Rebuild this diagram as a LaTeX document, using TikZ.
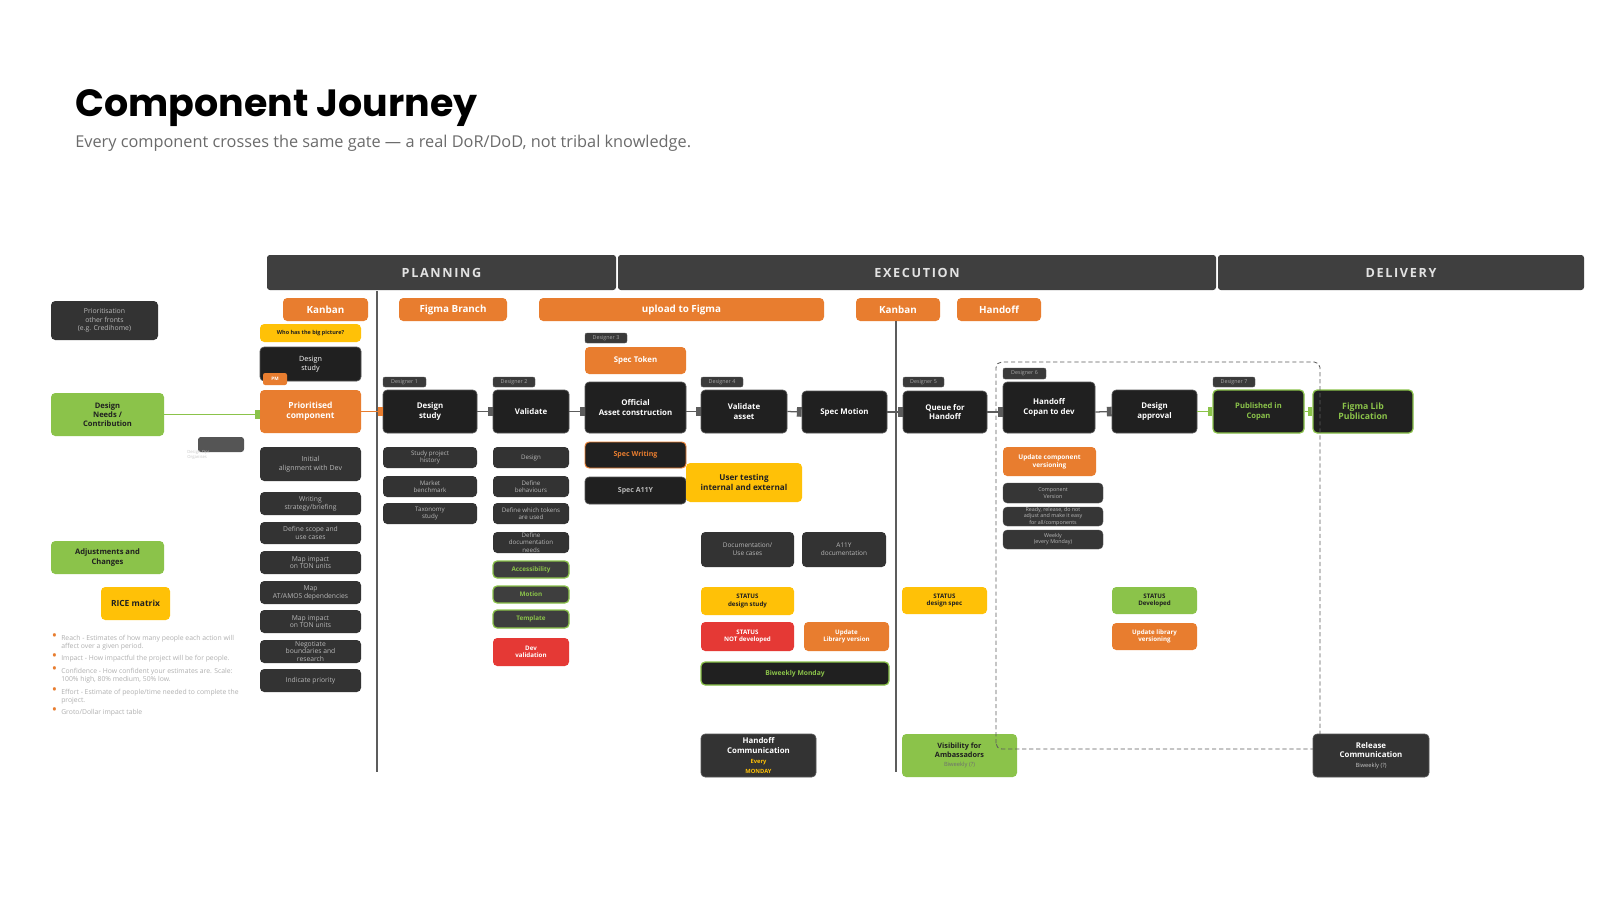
\documentclass[tikz,border=0pt]{standalone}
\usepackage{fontspec}
\setmainfont{Open Sans}
\newfontfamily\titlefont{Poppins}
\usetikzlibrary{arrows.meta,positioning}
\definecolor{ink}{HTML}{202020}
\definecolor{panel}{HTML}{333333}
\definecolor{panellite}{HTML}{3E3E3E}
\definecolor{bar}{HTML}{3F3F3F}
\definecolor{bartext}{HTML}{E2E2E2}
\definecolor{tagfill}{HTML}{3A3A3A}
\definecolor{tagtext}{HTML}{A8A8A8}
\definecolor{tangerine}{HTML}{E87D2F}
\definecolor{leaf}{HTML}{8BC34A}
\definecolor{sun}{HTML}{FFC107}
\definecolor{alert}{HTML}{E53935}
\definecolor{mute}{HTML}{B8B8B8}
\definecolor{faint}{HTML}{B0B0B0}
\definecolor{subgray}{HTML}{6B6B6B}
\definecolor{edge}{HTML}{555555}
\definecolor{wire}{HTML}{5C5C5C}
\definecolor{opsgray}{HTML}{555555}

\tikzset{
  corners/.style args={#1/#2/#3/#4}{at={({(#1+#3)/2},{(#2+#4)/2})},
    minimum width={(#3-#1)*0.025cm}, minimum height={(#4-#2)*0.025cm}},
  base/.style={inner sep=0pt, rounded corners=3pt, align=center},
  phasebar/.style={base, rounded corners=2pt, fill=bar, text=bartext,
    font=\fontsize{9}{11}\selectfont\bfseries\addfontfeature{LetterSpace=13}},
  toolbox/.style={base, fill=tangerine, text=white, font=\fontsize{7}{8.4}\selectfont\bfseries},
  stepbox/.style={base, fill=ink, draw=edge, line width=0.5pt, text=white,
    font=\fontsize{5.6}{6.9}\selectfont\bfseries},
  subbox/.style={base, fill=panel, text=mute, font=\fontsize{4.4}{5.1}\selectfont},
  planbox/.style={subbox, font=\fontsize{4.8}{5.6}\selectfont},
  tagbox/.style={base, rounded corners=1.5pt, fill=tagfill, draw=edge, line width=0.3pt,
    text=tagtext, font=\fontsize{3.8}{4.2}\selectfont},
  flagbox/.style={base, font=\fontsize{4.4}{5.4}\selectfont\bfseries},
  greenbox/.style={base, fill=ink, draw=leaf, line width=0.9pt, text=leaf,
    font=\fontsize{5.4}{6.6}\selectfont\bfseries},
  link/.style={draw=wire, line width=0.9pt, -{Square[length=3.4pt,width=6.8pt]}},
  divider/.style={draw=wire, line width=0.9pt},
}
\newcommand{\riceitem}[1]{\leavevmode\llap{\textcolor{tangerine}{\fontsize{10}{0}\selectfont\textbullet}\hspace{3pt}}#1}
\newcommand{\smallnote}[2]{{\color{#1}\fontsize{4.1}{5}\selectfont #2}}

\begin{document}
\begin{tikzpicture}[x=0.025cm,y=-0.025cm]
  \useasboundingbox[fill=white] (0,0) rectangle (1600,900);

  % title
  \node[anchor=base west, inner sep=0pt, font=\titlefont\bfseries\fontsize{27}{31}\selectfont] (title) at (75,117) {Component Journey};
  \node[anchor=base west, inner sep=0pt, text=subgray, font=\fontsize{11.6}{13}\selectfont] (subtitle) at (75,148) {Every component crosses the same gate — a real DoR/DoD, not tribal knowledge.};

  % phases
  \node[phasebar, corners=267/255/616/290] (planning) {PLANNING};
  \node[phasebar, corners=618/255/1216/290] (execution) {EXECUTION};
  \node[phasebar, corners=1218/255/1584/290] (delivery) {DELIVERY};

  % left column
  \node[subbox, corners=51/301/158/340, font=\fontsize{4.9}{6}\selectfont] (otherfronts) {Prioritisation\\other fronts\\(e.g. Credihome)};
  \node[flagbox, fill=leaf, text=ink, corners=51/393/164/436, font=\fontsize{5.4}{6.5}\selectfont\bfseries] (needs) {Design\\Needs /\\Contribution};
  \node[base, rounded corners=2pt, fill=opsgray, corners=198/437/244/452] (ops) {};
  \node[anchor=north west, inner sep=0pt, align=left, text=faint!70, font=\fontsize{3}{3.7}\selectfont] (opsnote) at (187,450) {Design Ops\\Organises};
  \node[flagbox, fill=leaf, text=ink, corners=51/541/164/574, font=\fontsize{5.4}{6.5}\selectfont\bfseries] (adjust) {Adjustments and\\Changes};
  \node[flagbox, fill=sun, text=ink, corners=101/587/170/620, font=\fontsize{6}{7}\selectfont\bfseries] (rice) {RICE matrix};
  \node[anchor=north west, inner sep=0pt, align=left, text=faint, font=\fontsize{4.85}{5.8}\selectfont] (ricelist) at (61,633)
    {\riceitem{Reach - Estimates of how many people each action will}\\affect over a given period.\\[1.9pt]
     \riceitem{Impact - How impactful the project will be for people.}\\[1.9pt]
     \riceitem{Confidence - How confident your estimates are. Scale:}\\100\% high, 80\% medium, 50\% low.\\[1.9pt]
     \riceitem{Effort - Estimate of people/time needed to complete the}\\project.\\[1.9pt]
     \riceitem{Groto/Dollar impact table}};

  % planning
  \node[toolbox, corners=283/298/368/321] (kanbanA) {Kanban};
  \node[flagbox, fill=sun, text=ink, corners=260/324/361/342, font=\fontsize{3.9}{4.5}\selectfont\bfseries] (bigpicture) {Who has the big picture?};
  \node[stepbox, corners=260/347/361/381, font=\fontsize{5.1}{6.3}\selectfont] (pmstudy) {Design\\study};
  \node[base, rounded corners=1.5pt, fill=tangerine, text=white, font=\fontsize{3.3}{4}\selectfont\bfseries, corners=263/373/287/385] (pm) {PM};
  \node[toolbox, corners=260/390/361/433, font=\fontsize{6}{7.3}\selectfont\bfseries] (prio) {Prioritised\\component};
  \node[planbox, corners=260/447/361/481, font=\fontsize{5}{6}\selectfont] (initial) {Initial\\alignment with Dev};
  \node[planbox, corners=260/492/361/515] (briefing) {Writing\\strategy/briefing};
  \node[planbox, corners=260/522/361/544] (scope) {Define scope and\\use cases};
  \node[planbox, corners=260/551/361/574] (tonA) {Map impact\\on TON units};
  \node[planbox, corners=260/581/361/604] (amos) {Map\\AT/AMOS dependencies};
  \node[planbox, corners=260/610/361/633] (tonB) {Map impact\\on TON units};
  \node[planbox, corners=260/640/361/663] (negotiate) {Negotiate\\boundaries and\\research};
  \node[planbox, corners=260/669/361/692] (priority) {Indicate priority};

  % tools row
  \node[toolbox, corners=399/298/507/321] (branch) {Figma Branch};
  \node[toolbox, corners=539/298/824/321] (upload) {upload to Figma};
  \node[toolbox, corners=856/298/940/321] (kanbanB) {Kanban};
  \node[toolbox, corners=957/298/1041/321] (handofftool) {Handoff};

  % designer tags
  \node[tagbox, corners=383/377/426/387] (tag1) {Designer 1};
  \node[tagbox, corners=493/377/535/387] (tag2) {Designer 2};
  \node[tagbox, corners=585/333/627/343] (tag3) {Designer 3};
  \node[tagbox, corners=701/377/743/387] (tag4) {Designer 4};
  \node[tagbox, corners=903/377/944/387] (tag5) {Designer 5};
  \node[tagbox, corners=1003/368/1046/379] (tag6) {Designer 6};
  \node[tagbox, corners=1213/377/1255/387] (tag7) {Designer 7};

  % main steps
  \node[stepbox, corners=383/390/477/433] (dstudy) {Design\\study};
  \node[stepbox, corners=493/390/569/433] (validate) {Validate};
  \node[stepbox, corners=585/382/686/433] (official) {Official\\Asset construction};
  \node[stepbox, corners=701/390/787/433] (vasset) {Validate\\asset};
  \node[stepbox, corners=802/391/887/433] (specmotion) {Spec Motion};
  \node[stepbox, corners=903/391/987/433] (queue) {Queue for\\Handoff};
  \node[stepbox, corners=1003/382/1095/433] (copan) {Handoff\\Copan to dev};
  \node[stepbox, corners=1112/390/1197/433] (approval) {Design\\approval};
  \node[greenbox, corners=1213/390/1304/433] (published) {Published in\\Copan};
  \node[greenbox, corners=1313/390/1413/433, font=\fontsize{6.2}{7.4}\selectfont\bfseries] (figmalib) {Figma Lib\\Publication};

  % design study / validate details
  \node[subbox, corners=383/447/477/468] (history) {Study project\\history};
  \node[subbox, corners=383/476/477/497] (benchmark) {Market\\benchmark};
  \node[subbox, corners=383/503/477/524] (taxonomy) {Taxonomy\\study};
  \node[subbox, corners=493/447/569/468] (vdesign) {Design};
  \node[subbox, corners=493/476/569/497] (behaviours) {Define\\behaviours};
  \node[subbox, corners=493/503/569/524] (tokens) {Define which tokens\\are used};
  \node[subbox, corners=493/532/569/553] (docneeds) {Define\\documentation\\needs};
  \node[greenbox, fill=panellite, corners=493/561/569/578, font=\fontsize{4.5}{5}\selectfont\bfseries] (access) {Accessibility};
  \node[greenbox, fill=panellite, corners=493/586/569/603, font=\fontsize{4.5}{5}\selectfont\bfseries] (motioncheck) {Motion};
  \node[greenbox, fill=panellite, corners=493/610/569/628, font=\fontsize{4.5}{5}\selectfont\bfseries] (template) {Template};
  \node[flagbox, fill=alert, text=white, corners=493/638/569/666] (devval) {Dev\\validation};

  % asset construction details
  \node[toolbox, corners=585/347/686/374, font=\fontsize{5.6}{6.6}\selectfont\bfseries] (spectoken) {Spec Token};
  \node[stepbox, draw=tangerine, line width=0.7pt, text=tangerine, corners=585/442/686/468, font=\fontsize{5}{6}\selectfont\bfseries] (specwriting) {Spec Writing};
  \node[stepbox, text=mute, corners=585/477/686/504, font=\fontsize{5}{6}\selectfont\bfseries] (speca11y) {Spec A11Y};
  \node[flagbox, fill=sun, text=ink, corners=686/463/802/502, font=\fontsize{5.8}{7}\selectfont\bfseries] (usertest) {User testing\\internal and external};
  \node[subbox, corners=701/532/794/567, font=\fontsize{4.6}{5.7}\selectfont] (docuse) {Documentation/\\Use cases};
  \node[subbox, corners=802/532/886/567, font=\fontsize{4.6}{5.7}\selectfont] (a11ydoc) {A11Y\\documentation};
  \node[flagbox, fill=sun, text=ink, corners=701/587/794/615] (stdesign) {STATUS\\design study};
  \node[flagbox, fill=alert, text=white, corners=701/622/794/651] (stnotdev) {STATUS\\NOT developed};
  \node[flagbox, fill=tangerine, text=white, corners=804/622/889/651] (updlib) {Update\\Library version};
  \node[greenbox, corners=701/662/889/685, font=\fontsize{4.8}{5.6}\selectfont\bfseries] (biweekly) {Biweekly Monday};

  % handoff details
  \node[flagbox, fill=sun, text=ink, corners=902/587/987/614] (stspec) {STATUS\\design spec};
  \node[flagbox, fill=tangerine, text=white, corners=1003/447/1096/476, font=\fontsize{4.6}{5.7}\selectfont\bfseries] (updcomp) {Update component\\versioning};
  \node[subbox, fill=ink!90!white, draw=edge, line width=0.3pt, corners=1003/483/1103/503, font=\fontsize{3.8}{4.4}\selectfont] (compver) {Component\\Version};
  \node[subbox, fill=ink!90!white, draw=edge, line width=0.3pt, corners=1003/507/1103/526, font=\fontsize{3.8}{4.4}\selectfont] (ready) {Ready, release, do not\\adjust and make it easy\\for all/components};
  \node[subbox, fill=ink!90!white, draw=edge, line width=0.3pt, corners=1003/530/1103/549, font=\fontsize{3.8}{4.4}\selectfont] (weekly) {Weekly\\(every Monday)};
  \node[flagbox, fill=leaf, text=ink, corners=1112/587/1197/614] (stdev) {STATUS\\Developed};
  \node[flagbox, fill=tangerine, text=white, corners=1112/623/1197/650] (updlibv) {Update library\\versioning};

  % communication
  \node[stepbox, fill=panel, corners=701/734/816/777] (handcomm) {Handoff\\Communication\\\smallnote{sun}{Every}\\\smallnote{sun}{MONDAY}};
  \node[flagbox, fill=leaf, text=ink, corners=902/734/1017/777, font=\fontsize{5.2}{6.4}\selectfont\bfseries] (visibility) {Visibility for\\Ambassadors\\\smallnote{ink!65}{\mdseries Biweekly (?)}};

  % handoff scope
  \draw[wire, line width=0.6pt, dash pattern=on 3pt off 2pt, rounded corners=4pt] (996,749) -- (996,362) -- (1320,362) -- (1320,749) -- cycle;

  \node[stepbox, fill=panel, corners=1313/734/1429/777] (release) {Release\\Communication\\\smallnote{mute!80}{\mdseries Biweekly (?)}};

  % dividers
  \draw[divider] (377,291) -- (377,772);
  \draw[divider] (896,321) -- (896,772);

  % flow
  \draw[link, draw=leaf] (needs.east) -- (needs.east -| prio.west);
  \draw[link, draw=tangerine] (prio.east) -- (prio.east -| dstudy.west);
  \draw[link] (dstudy.east) -- (validate.west);
  \draw[link] (validate.east) -- (validate.east -| official.west);
  \draw[link] (validate.east -| official.east) -- (vasset.west);
  \draw[link] (vasset.east) -- (specmotion.west);
  \draw[link] (specmotion.east) -- (queue.west);
  \draw[link] (queue.east) -- (queue.east -| copan.west);
  \draw[link] (queue.east -| copan.east) -- (approval.west);
  \draw[link, draw=leaf] (approval.east) -- (published.west);
  \draw[link, draw=leaf] (published.east) -- (figmalib.west);
\end{tikzpicture}
\end{document}
